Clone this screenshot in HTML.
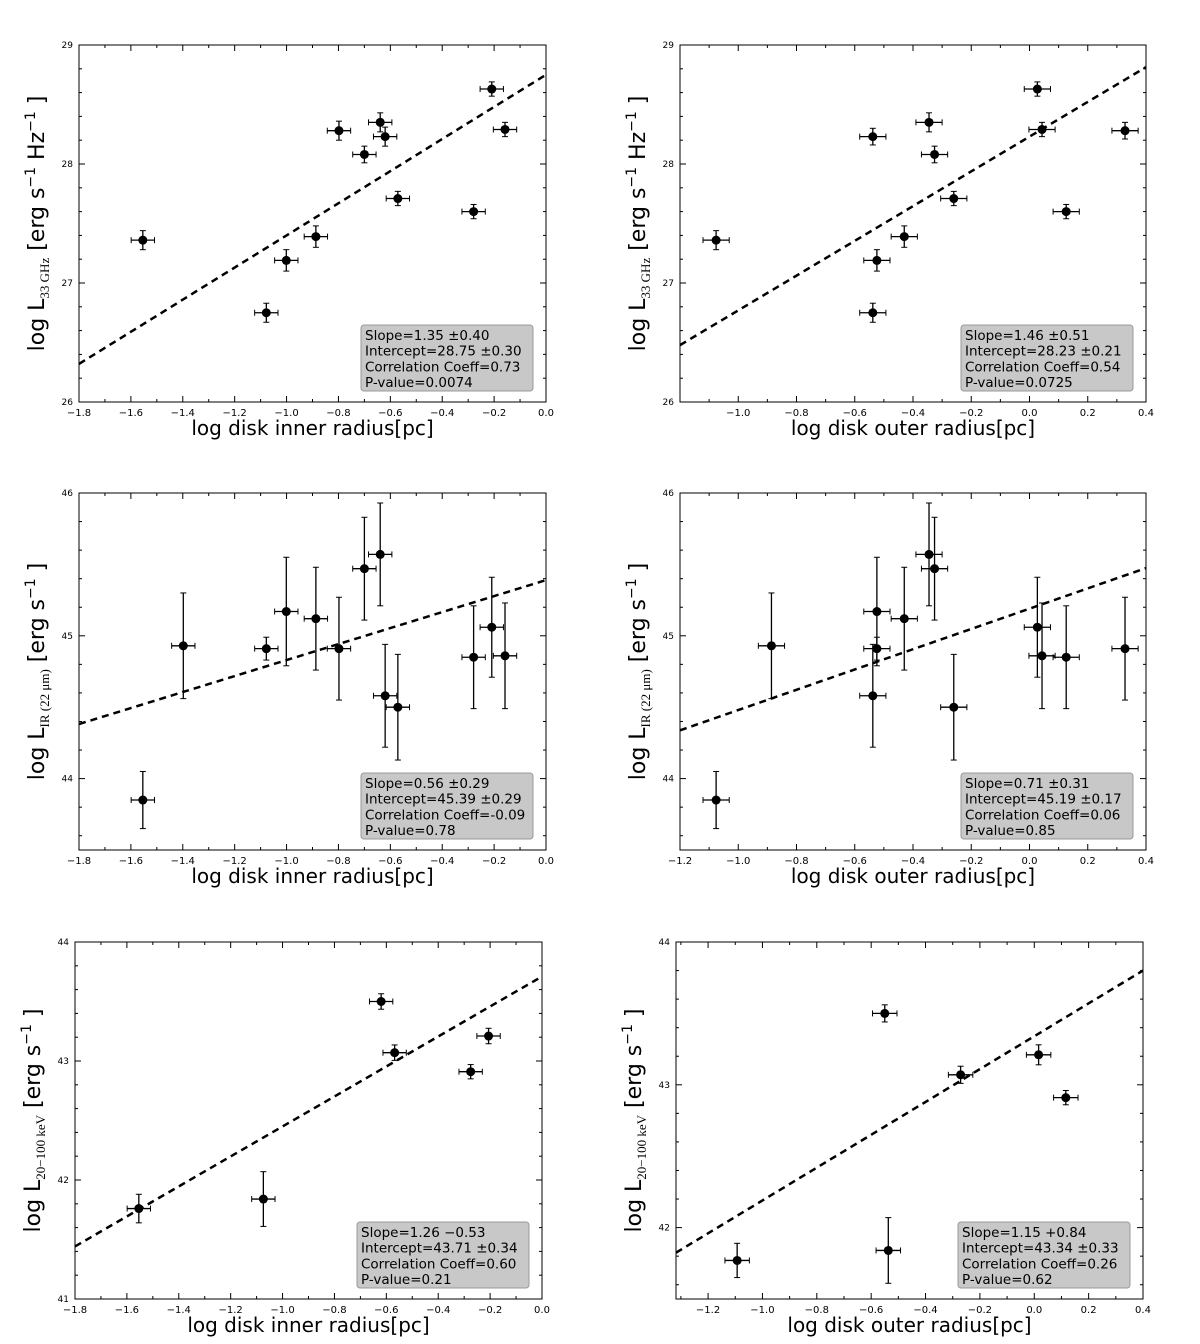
<!DOCTYPE html>
<html><head><meta charset="utf-8"><style>
body{margin:0;background:#fff}
svg{display:block;font-family:"DejaVu Sans","Liberation Sans",sans-serif}
</style></head><body>
<svg id="fig" width="1200" height="1344" viewBox="0 0 1200 1344" xmlns="http://www.w3.org/2000/svg"></svg>
<script>
// ---- Panel A: 33GHz vs inner radius
const aX=[-1.554,-1.078,-1.001,-0.887,-0.798,-0.700,-0.639,-0.620,-0.571,-0.279,-0.209,-0.158];
const aY=[27.36,26.75,27.19,27.39,28.28,28.08,28.35,28.23,27.71,27.60,28.63,28.29];
const aYerr=[0.08,0.08,0.09,0.09,0.08,0.07,0.08,0.08,0.06,0.06,0.06,0.06];
const aFit=[1.35,28.75];
const aStats=["Slope=1.35 \u00b10.40","Intercept=28.75 \u00b10.30","Correlation Coeff=0.73","P-value=0.0074"];
// ---- Panel B: 33GHz vs outer radius
const bX=[-1.076,-0.538,-0.524,-0.538,-0.430,-0.345,-0.326,-0.260,0.027,0.043,0.126,0.328];
const bY=[27.36,26.75,27.19,28.23,27.39,28.35,28.08,27.71,28.63,28.29,27.60,28.28];
const bYerr=[0.08,0.08,0.09,0.07,0.09,0.08,0.07,0.06,0.06,0.06,0.06,0.07];
const bFit=[1.46,28.23];
const bStats=["Slope=1.46 \u00b10.51","Intercept=28.23 \u00b10.21","Correlation Coeff=0.54","P-value=0.0725"];
// ---- Panel C: IR vs inner radius
const cX=[-1.554,-1.398,-1.078,-1.001,-0.887,-0.798,-0.700,-0.639,-0.620,-0.571,-0.279,-0.209,-0.158];
const cY=[43.85,44.93,44.91,45.17,45.12,44.91,45.47,45.57,44.58,44.50,44.85,45.06,44.86];
const cYerr=[0.20,0.37,0.08,0.38,0.36,0.36,0.36,0.36,0.36,0.37,0.36,0.35,0.37];
const cFit=[0.56,45.39];
const cStats=["Slope=0.56 \u00b10.29","Intercept=45.39 \u00b10.29","Correlation Coeff=-0.09","P-value=0.78"];
// ---- Panel D: IR vs outer radius
const dX=[-1.076,-0.886,-0.538,-0.524,-0.524,-0.430,-0.345,-0.326,-0.260,0.027,0.043,0.126,0.328];
const dY=[43.85,44.93,44.58,45.17,44.91,45.12,45.57,45.47,44.50,45.06,44.86,44.85,44.91];
const dYerr=[0.20,0.37,0.36,0.38,0.08,0.36,0.36,0.36,0.37,0.35,0.37,0.36,0.36];
const dFit=[0.71,45.19];
const dStats=["Slope=0.71 \u00b10.31","Intercept=45.19 \u00b10.17","Correlation Coeff=0.06","P-value=0.85"];
// ---- Panel E: X-ray vs inner radius
const eX=[-1.554,-1.074,-0.620,-0.568,-0.275,-0.206];
const eY=[41.76,41.84,43.50,43.07,42.91,43.21];
const eYerr=[0.12,0.23,0.065,0.065,0.06,0.065];
const eFit=[1.26,43.71];
const eStats=["Slope=1.26 \u22120.53","Intercept=43.71 \u00b10.34","Correlation Coeff=0.60","P-value=0.21"];
// ---- Panel F: X-ray vs outer radius
const fX=[-1.093,-0.550,-0.537,-0.271,0.016,0.116];
const fY=[41.77,43.50,41.84,43.07,43.21,42.91];
const fYerr=[0.12,0.06,0.23,0.06,0.07,0.05];
const fFit=[1.15,43.34];
const fStats=["Slope=1.15 +0.84","Intercept=43.34 \u00b10.33","Correlation Coeff=0.26","P-value=0.62"];

const xTicksInner=[-1.8,-1.6,-1.4,-1.2,-1.0,-0.8,-0.6,-0.4,-0.2,0.0];
const xTicksOuter=[-1.2,-1.0,-0.8,-0.6,-0.4,-0.2,0.0,0.2,0.4];

const NS="http://www.w3.org/2000/svg";
const svg=document.getElementById('fig');
function mk(tag,attrs,parent){const e=document.createElementNS(NS,tag);for(const k in attrs)e.setAttribute(k,attrs[k]);(parent||svg).appendChild(e);return e;}

function panel(cfg){
  const g=mk('g',{});
  
  
  const L=cfg.L,R=cfg.R,T=cfg.T,B=cfg.B;
  const sx=v=>L+(v-cfg.x0)/(cfg.x1-cfg.x0)*(R-L);
  const sy=v=>B-(v-cfg.y0)/(cfg.y1-cfg.y0)*(B-T);
  const fr=mk('rect',{x:L,y:T,width:R-L,height:B-T,fill:'none',stroke:'#000','stroke-width':1},g);
  
  
  cfg.xt.forEach(t=>{
    if(t<cfg.x0-1e-6||t>cfg.x1+1e-6)return;
    const x=sx(t);
    mk('line',{x1:x,y1:B,x2:x,y2:B-6,stroke:'#000'},g);
    mk('line',{x1:x,y1:T,x2:x,y2:T+6,stroke:'#000'},g);
    if(!(cfg.hideFirst&&t===cfg.xt[0])){
      const tx=mk('text',{x:x,y:B+14,'font-size':10,'text-anchor':'middle',fill:'#000'},g);
      tx.textContent=(t<0?'\u2212':'')+Math.abs(t).toFixed(1);
      
      
    }
  });
  for(let m=Math.ceil(cfg.x0*10);m<=Math.floor(cfg.x1*10);m++){
    if(m%2===0)continue;const x=sx(m/10);
    mk('line',{x1:x,y1:B,x2:x,y2:B-3,stroke:'#000'},g);
    mk('line',{x1:x,y1:T,x2:x,y2:T+3,stroke:'#000'},g);
  }
  for(let v=Math.ceil(cfg.y0);v<=cfg.y1;v++){
    const y=sy(v);
    mk('line',{x1:L,y1:y,x2:L+6,y2:y,stroke:'#000'},g);
    mk('line',{x1:R,y1:y,x2:R-6,y2:y,stroke:'#000'},g);
    const ty=mk('text',{x:L-6,y:y+3,'font-size':9,'text-anchor':'end',fill:'#000'},g);
    ty.textContent=v;
    
    
  }
  for(let m=Math.ceil(cfg.y0*5);m<=Math.floor(cfg.y1*5);m++){
    if(m%5===0)continue;const y=sy(m/5);
    mk('line',{x1:L,y1:y,x2:L+3,y2:y,stroke:'#000'},g);
    mk('line',{x1:R,y1:y,x2:R-3,y2:y,stroke:'#000'},g);
  }
  const fl=mk('line',{x1:sx(cfg.x0),y1:sy(cfg.fit[1]+cfg.fit[0]*cfg.x0),x2:sx(cfg.x1),y2:sy(cfg.fit[1]+cfg.fit[0]*cfg.x1),stroke:'#000','stroke-width':2.5,'stroke-dasharray':'7,5'},g);
  
  
  const xerr=0.045;
  cfg.X.forEach((xv,i)=>{
    const pg=mk('g',{},g);
    
    
    const cx=sx(xv),cy=sy(cfg.Y[i]);
    const x1=sx(xv-xerr),x2=sx(xv+xerr),y1=sy(cfg.Y[i]+cfg.E[i]),y2=sy(cfg.Y[i]-cfg.E[i]);
    mk('line',{x1:x1,y1:cy,x2:x2,y2:cy,stroke:'#000','stroke-width':1.3},pg);
    mk('line',{x1:cx,y1:y1,x2:cx,y2:y2,stroke:'#000','stroke-width':1.3},pg);
    mk('line',{x1:x1,y1:cy-3,x2:x1,y2:cy+3,stroke:'#000'},pg);
    mk('line',{x1:x2,y1:cy-3,x2:x2,y2:cy+3,stroke:'#000'},pg);
    mk('line',{x1:cx-3,y1:y1,x2:cx+3,y2:y1,stroke:'#000'},pg);
    mk('line',{x1:cx-3,y1:y2,x2:cx+3,y2:y2,stroke:'#000'},pg);
    mk('circle',{cx:cx,cy:cy,r:4.5,fill:'#000'},pg);
  });
  const bw=172,bh=66,bx=R-13-bw,by=B-11-bh;
  const bg=mk('g',{},g);
  
  
  mk('rect',{x:bx,y:by,width:bw,height:bh,rx:3,fill:'#c8c8c8',stroke:'#999'},bg);
  cfg.stats.forEach((s,i)=>{
    const t=mk('text',{x:bx+4,y:by+15+i*15.7,'font-size':13.5,fill:'#000'},bg);
    t.textContent=s;
    
    
  });
  const xl=mk('text',{x:(L+R)/2,y:B+33,'font-size':20,'text-anchor':'middle',fill:'#000'},g);
  xl.textContent=cfg.xlabel;
  
  
  const cx=L-35,cy=(T+B)/2;
  const yl=mk('text',{x:cx,y:cy,'font-size':22,'text-anchor':'middle',fill:'#000',transform:`rotate(-90 ${cx} ${cy})`},g);
  
  
  yl.innerHTML=cfg.ylabel;
}
const lab33='log L<tspan font-size="13" font-family="Liberation Serif,serif" dy="5">33 GHz</tspan><tspan dy="-5"> [erg s</tspan><tspan font-size="14" dy="-9">\u22121</tspan><tspan dy="9">  Hz</tspan><tspan font-size="14" dy="-9">\u22121</tspan><tspan dy="9"> ]</tspan>';
const labIR='log L<tspan font-size="13" font-family="Liberation Serif,serif" dy="5">IR (22 \u03bcm)</tspan><tspan dy="-5"> [erg s</tspan><tspan font-size="14" dy="-9">\u22121</tspan><tspan dy="9"> ]</tspan>';
const labX='log L<tspan font-size="13" font-family="Liberation Serif,serif" dy="5">20\u2212100 keV</tspan><tspan dy="-5"> [erg s</tspan><tspan font-size="14" dy="-9">\u22121</tspan><tspan dy="9"> ]</tspan>';
const inLab='log disk inner radius[pc]',outLab='log disk outer radius[pc]';
panel({name:'panel-33ghz-inner',L:79,R:546,T:45,B:402,x0:-1.8,x1:0,y0:26,y1:29,xt:xTicksInner,X:aX,Y:aY,E:aYerr,fit:aFit,stats:aStats,xlabel:inLab,ylabel:lab33});
panel({name:'panel-33ghz-outer',L:680,R:1146,T:45,B:402,x0:-1.2,x1:0.4,y0:26,y1:29,xt:xTicksOuter,hideFirst:true,X:bX,Y:bY,E:bYerr,fit:bFit,stats:bStats,xlabel:outLab,ylabel:lab33});
panel({name:'panel-ir-inner',L:79,R:546,T:493,B:850,x0:-1.8,x1:0,y0:43.5,y1:46,xt:xTicksInner,X:cX,Y:cY,E:cYerr,fit:cFit,stats:cStats,xlabel:inLab,ylabel:labIR});
panel({name:'panel-ir-outer',L:680,R:1146,T:493,B:850,x0:-1.2,x1:0.4,y0:43.5,y1:46,xt:xTicksOuter,X:dX,Y:dY,E:dYerr,fit:dFit,stats:dStats,xlabel:outLab,ylabel:labIR});
panel({name:'panel-xray-inner',L:75,R:542,T:942,B:1299,x0:-1.8,x1:0,y0:41,y1:44,xt:xTicksInner,X:eX,Y:eY,E:eYerr,fit:eFit,stats:eStats,xlabel:inLab,ylabel:labX});
panel({name:'panel-xray-outer',L:676,R:1143,T:942,B:1299,x0:-1.318,x1:0.4,y0:41.5,y1:44,xt:xTicksOuter,X:fX,Y:fY,E:fYerr,fit:fFit,stats:fStats,xlabel:outLab,ylabel:labX});
</script>
</body></html>
